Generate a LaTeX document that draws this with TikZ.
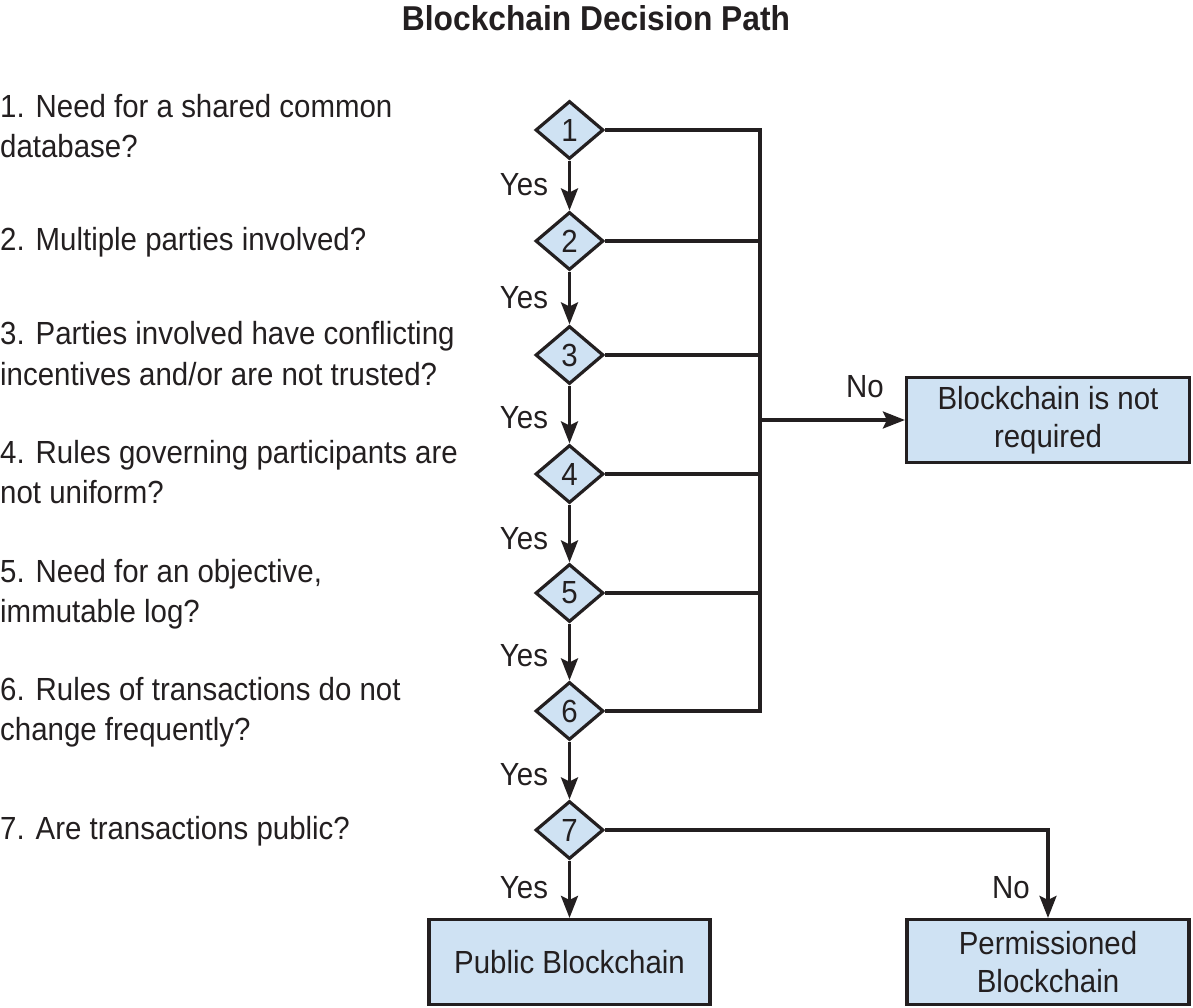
\documentclass[tikz,border=0pt]{standalone}
\usepackage{fontspec}
\setmainfont{Liberation Sans}[FakeStretch=0.92]
\usetikzlibrary{shapes.geometric,arrows.meta}
\definecolor{boxfill}{HTML}{CFE2F3}
\definecolor{ink}{HTML}{231F20}
\begin{document}
\begin{tikzpicture}[x=1pt,y=-1pt,
  txt/.style={inner sep=0pt,anchor=base west,font=\fontsize{32}{40}\selectfont,text=ink},
  lbl/.style={inner sep=0pt,anchor=base,font=\fontsize{32}{40}\selectfont,text=ink},
  dia/.style={diamond,draw=ink,line width=3.2pt,fill=boxfill,inner sep=0pt,minimum width=68pt,minimum height=58pt,font=\fontsize{32}{40}\selectfont,text=ink},
  res/.style={rectangle,draw=ink,line width=3.2pt,fill=boxfill,inner sep=0pt,align=center,font=\fontsize{32}{38}\selectfont,text=ink},
  ln/.style={draw=ink,line width=3.2pt},
  arr/.style={ln,-{Stealth[length=22pt,width=17pt,inset=4pt]}}]
\useasboundingbox (0,0) rectangle (1193,1008);
% title
\node[inner sep=0pt,anchor=base,font=\fontsize{34.5}{40}\selectfont\bfseries,text=ink] (title) at (596,31) {Blockchain Decision Path};
% questions
\node[txt] (q1a) at (0,118) {1. Need for a shared common};
\node[txt] (q1b) at (0,158) {database?};
\node[txt] (q2) at (0,251) {2. Multiple parties involved?};
\node[txt] (q3a) at (0,344) {3. Parties involved have conflicting};
\node[txt] (q3b) at (0,385) {incentives and/or are not trusted?};
\node[txt] (q4a) at (0,463) {4. Rules governing participants are};
\node[txt] (q4b) at (0,503) {not uniform?};
\node[txt] (q5a) at (0,582) {5. Need for an objective,};
\node[txt] (q5b) at (0,622) {immutable log?};
\node[txt] (q6a) at (0,700) {6. Rules of transactions do not};
\node[txt] (q6b) at (0,740) {change frequently?};
\node[txt] (q7) at (0,839) {7. Are transactions public?};
% diamonds
\node[dia] (d1) at (569.5,130) {1};
\node[dia] (d2) at (569.5,241) {2};
\node[dia] (d3) at (569.5,355) {3};
\node[dia] (d4) at (569.5,474) {4};
\node[dia] (d5) at (569.5,593) {5};
\node[dia] (d6) at (569.5,711) {6};
\node[dia] (d7) at (569.5,830) {7};
% result boxes
\node[res,minimum width=283pt,minimum height=85pt] (nr) at (1048,420) {Blockchain is not\\required};
\node[res,minimum width=281pt,minimum height=85pt] (pub) at (569.5,962) {Public Blockchain};
\node[res,minimum width=282pt,minimum height=85pt] (perm) at (1048,962) {Permissioned\\Blockchain};
% rail
\coordinate (rt) at (760,130);
\coordinate (rb) at (760,711);
\draw[ln,line join=miter] (d1.east) -- (rt) -- (rb) -- (d6.east);
\foreach \k in {2,3,4,5} \draw[ln] (d\k.east) -- (d\k.east -| rt);
\draw[arr] (nr.west -| rt) -- (nr.west);
% yes arrows
\draw[arr] (d1.south) -- (d2.north);
\draw[arr] (d2.south) -- (d3.north);
\draw[arr] (d3.south) -- (d4.north);
\draw[arr] (d4.south) -- (d5.north);
\draw[arr] (d5.south) -- (d6.north);
\draw[arr] (d6.south) -- (d7.north);
\draw[arr] (d7.south) -- (pub.north);
\draw[arr,line join=miter] (d7.east) -| (perm.north);
% labels
\node[lbl] (y1) at (524,196) {Yes};
\node[lbl] (y2) at (524,308) {Yes};
\node[lbl] (y3) at (524,428) {Yes};
\node[lbl] (y4) at (524,549) {Yes};
\node[lbl] (y5) at (524,666) {Yes};
\node[lbl] (y6) at (524,785) {Yes};
\node[lbl] (y7) at (524,898) {Yes};
\node[lbl] (n1) at (865,397) {No};
\node[lbl] (n2) at (1011,898) {No};
\end{tikzpicture}
\end{document}
